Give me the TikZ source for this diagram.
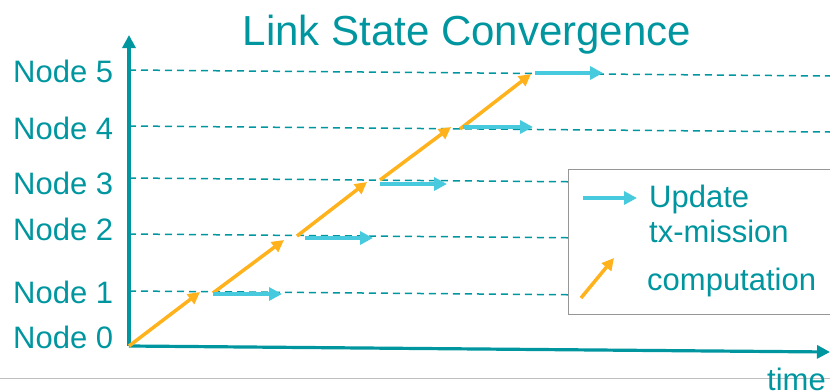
\documentclass[tikz,border=0pt]{standalone}
\usepackage{fontspec}
\setmainfont{Liberation Sans}
\usetikzlibrary{arrows.meta}
\definecolor{teal}{RGB}{0,150,160}
\definecolor{upd}{RGB}{72,202,222}
\definecolor{comp}{RGB}{255,178,28}
\definecolor{rule}{RGB}{190,190,190}
\definecolor{frame}{RGB}{150,150,150}
\tikzset{
  lbl/.style={inner sep=0pt, anchor=base west, text=teal, font=\fontsize{31}{37}\selectfont},
  axis/.style={draw=teal, line width=3.2pt, -{Triangle[length=13pt,width=13pt]}},
  level/.style={draw=teal, line width=1.5pt, dash pattern=on 7pt off 5pt},
  updarrow/.style={draw=upd, line width=4.5pt, -{Triangle[length=13pt,width=13pt]}},
  comparrow/.style={draw=comp, line width=3.5pt, -{Triangle[length=12pt,width=12pt]}},
}
\begin{document}
\begin{tikzpicture}[x=1pt,y=-1pt]
\useasboundingbox (0,0) rectangle (830,391);

% title
\node[inner sep=0pt, anchor=base, text=teal, font=\fontsize{42}{50}\selectfont] (title) at (467,45) {Link State Convergence};

% bottom rule
\coordinate (rl) at (0,378);
\coordinate (rr) at (830,378);
\draw[rule, line width=1pt] (rl) -- (rr);

% axes
\coordinate (o) at (129,346);
\coordinate (ytop) at (129,35);
\coordinate (xend) at (830,352);

% node levels (left end on the axis, right end at the edge)
\coordinate (l1) at (129,291); \coordinate (r1) at (830,297);
\coordinate (l2) at (129,234); \coordinate (r2) at (830,240);
\coordinate (l3) at (129,178); \coordinate (r3) at (830,184);
\coordinate (l4) at (129,126); \coordinate (r4) at (830,132);
\coordinate (l5) at (129,70);  \coordinate (r5) at (830,76);
\foreach \i in {1,...,5} { \draw[level] (l\i) -- (r\i); }

% node labels
\node[lbl] (n5) at (13,82)  {Node 5};
\node[lbl] (n4) at (13,139) {Node 4};
\node[lbl] (n3) at (13,194) {Node 3};
\node[lbl] (n2) at (13,240) {Node 2};
\node[lbl] (n1) at (13,303) {Node 1};
\node[lbl] (n0) at (13,348) {Node 0};

% legend box
\node[draw=frame, fill=white, line width=1pt, inner sep=0pt, minimum width=272pt, minimum height=145pt, anchor=north west] (legend) at (568,169) {};

\draw[axis] (o) -- (ytop);
\draw[axis] (o) -- (xend);

% computation steps
\coordinate (c0s) at (129,346); \coordinate (c0e) at (200,292);
\coordinate (c1s) at (213,293); \coordinate (c1e) at (284,240);
\coordinate (c2s) at (297,236); \coordinate (c2e) at (367,182);
\coordinate (c3s) at (380,180); \coordinate (c3e) at (451,127);
\coordinate (c4s) at (460,129); \coordinate (c4e) at (531,74);
\foreach \i in {0,...,4} { \draw[comparrow] (c\i s) -- (c\i e); }

% update transmissions
\coordinate (u1s) at (213,294); \coordinate (u1e) at (282,294);
\coordinate (u2s) at (305,238); \coordinate (u2e) at (373,238);
\coordinate (u3s) at (380,184); \coordinate (u3e) at (447,184);
\coordinate (u4s) at (463,127); \coordinate (u4e) at (533,127);
\coordinate (u5s) at (535,73);  \coordinate (u5e) at (603,73);
\foreach \i in {1,...,5} { \draw[updarrow] (u\i s) -- (u\i e); }

% legend contents
\coordinate (lus) at (583,198); \coordinate (lue) at (637,198);
\draw[updarrow] (lus) -- (lue);
\node[lbl] (lu1) at (649,207) {Update};
\node[lbl] (lu2) at (649,242) {tx-mission};
\coordinate (lcs) at (581,298); \coordinate (lce) at (614,258);
\draw[comparrow] (lcs) -- (lce);
\node[lbl] (lc) at (647,290) {computation};

% axis label
\node[lbl] (time) at (767,390) {time};
\end{tikzpicture}
\end{document}
